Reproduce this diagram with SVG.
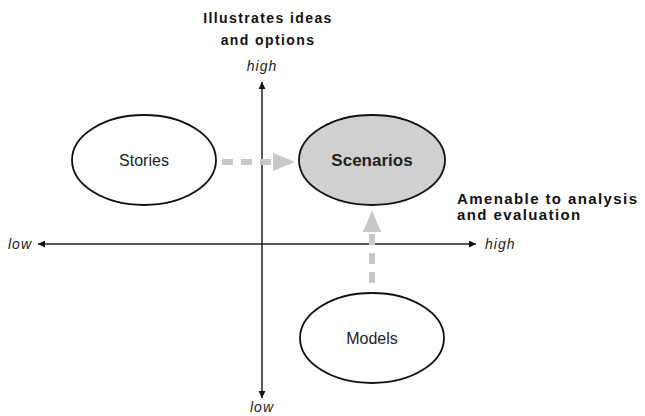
<svg xmlns="http://www.w3.org/2000/svg" width="645" height="416" viewBox="0 0 645 416">
<style>
.node{fill:#fff;stroke:#111;stroke-width:1.8}
.lbl{font-family:"Liberation Sans",Arial,sans-serif;font-size:16px;fill:#222;text-anchor:middle}
.title{font-family:"Liberation Sans",Arial,sans-serif;font-size:14px;font-weight:bold;fill:#111;letter-spacing:1.4px}
.axl{font-family:"Liberation Sans",Arial,sans-serif;font-size:14px;font-style:italic;fill:#222;letter-spacing:1px}
.axis{stroke:#222;stroke-width:1.5;fill:none}
.dash{stroke:#c8c8c8;stroke-width:6;stroke-dasharray:11 8;fill:none}
</style>
<defs>
<marker id="ah" viewBox="0 0 10 10" refX="10" refY="5" markerWidth="9" markerHeight="7" markerUnits="userSpaceOnUse" orient="auto"><path d="M0,0L10,5L0,10z" fill="#111"/></marker>
</defs>
<g id="axes">
<line class="axis" x1="262" y1="244" x2="262" y2="82" marker-end="url(#ah)"/>
<line class="axis" x1="262" y1="244" x2="262" y2="398" marker-end="url(#ah)"/>
<line class="axis" x1="262" y1="244" x2="476" y2="244" marker-end="url(#ah)"/>
<line class="axis" x1="262" y1="244" x2="38" y2="244" marker-end="url(#ah)"/>
<text class="title" x="268" y="23" text-anchor="middle">Illustrates ideas</text>
<text class="title" x="268" y="45" text-anchor="middle">and options</text>
<text class="axl" x="262" y="71" text-anchor="middle">high</text>
<text class="axl" x="262" y="412" text-anchor="middle">low</text>
<text class="axl" x="8" y="249">low</text>
<text class="axl" x="485" y="249">high</text>
<text class="title" x="457" y="204" style="font-size:15px">Amenable to analysis</text>
<text class="title" x="457" y="220" style="font-size:15px">and evaluation</text>
</g>
<g id="connectors">
<line class="dash" x1="222" y1="162" x2="273" y2="162"/>
<polygon points="273,153 295,162 273,171" fill="#c8c8c8"/>
<line class="dash" x1="372" y1="283" x2="372" y2="232"/>
<polygon points="363,232 372,210 381,232" fill="#c8c8c8"/>
</g>
<g id="stories">
<ellipse class="node" cx="144" cy="160" rx="72" ry="45"/>
<text class="lbl" x="144" y="166">Stories</text>
</g>
<g id="scenarios">
<ellipse class="node" cx="372" cy="160" rx="73" ry="45" style="fill:#d0d0d0"/>
<text class="lbl" x="372" y="166" style="font-weight:bold;font-size:17px">Scenarios</text>
</g>
<g id="models">
<ellipse class="node" cx="372" cy="338" rx="72" ry="45"/>
<text class="lbl" x="372" y="344">Models</text>
</g>
</svg>
